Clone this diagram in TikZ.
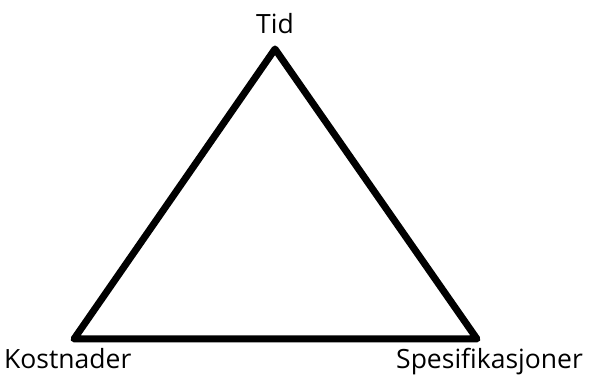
\documentclass[tikz,border=0pt]{standalone}
\usepackage{fontspec}
\setmainfont{Open Sans}
\begin{document}
\begin{tikzpicture}[x=1pt,y=-1pt,
  edge/.style={line width=7pt,line join=round,black},
  lbl/.style={font=\fontsize{26.5}{30}\selectfont,inner sep=0pt,text=black}]
\useasboundingbox (0,0) rectangle (590,377);
\coordinate (T) at (275,49);
\coordinate (L) at (74,339);
\coordinate (R) at (477,339);
\draw[edge] (T) -- (L) -- (R) -- cycle;
\node[lbl,anchor=base] (tid) at (275,34) {Tid};
\node[lbl,anchor=base west] (kost) at (4,369) {Kostnader};
\node[lbl,anchor=base west] (spes) at (396,369) {Spesifikasjoner};
\end{tikzpicture}
\end{document}
